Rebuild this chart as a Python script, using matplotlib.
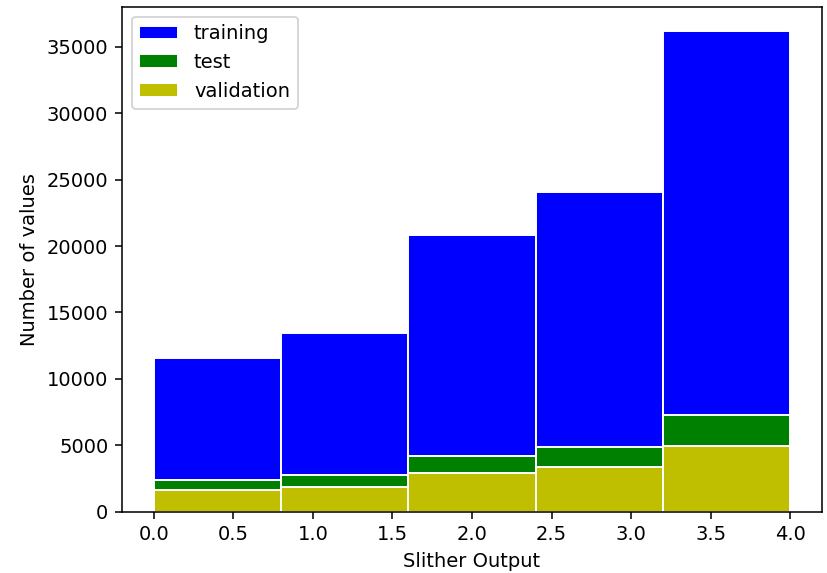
import numpy as np
import matplotlib
matplotlib.use('Agg')
import matplotlib.pyplot as plt

# bin edges of the Slither output histogram
bin_edges = [0.0, 0.8, 1.6, 2.4, 3.2, 4.0]

# counts per bin
training = [11580, 13480, 20860, 24060, 36200]
test = [2390, 2800, 4230, 4870, 7300]
validation = [1660, 1890, 2920, 3370, 4960]

DPI = 140
fig, ax = plt.subplots(figsize=(827 / DPI, 573 / DPI), dpi=DPI)
fig.subplots_adjust(left=0.1475, right=0.994, top=0.988, bottom=0.107)

centers = [(a + b) / 2 for a, b in zip(bin_edges[:-1], bin_edges[1:])]

# overlapping histograms, same as plt.hist called three times
ax.hist(centers, bins=bin_edges, weights=training, color='b', edgecolor='white', label='training')
ax.hist(centers, bins=bin_edges, weights=test, color='g', edgecolor='white', label='test')
ax.hist(centers, bins=bin_edges, weights=validation, color='y', edgecolor='white', label='validation')

ax.set_xlabel('Slither Output')
ax.set_ylabel('Number of values')
ax.legend(loc='upper left')

fig.savefig('out.png', dpi=DPI)
